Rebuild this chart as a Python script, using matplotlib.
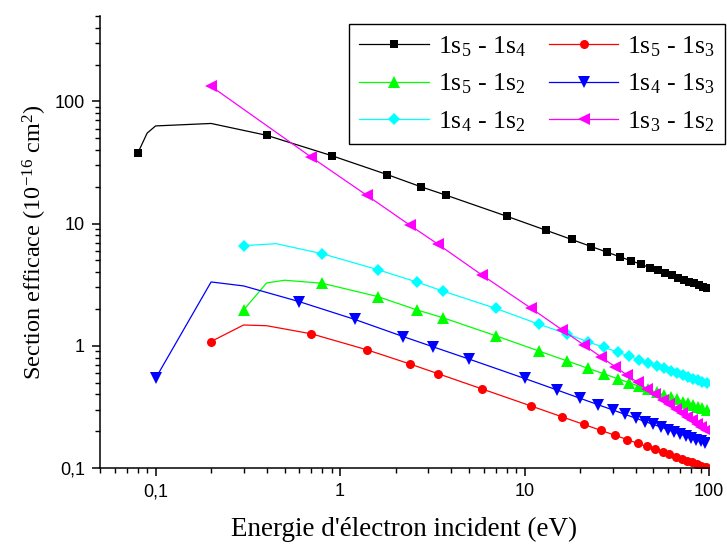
import matplotlib
matplotlib.use("Agg")
import matplotlib.pyplot as plt
from matplotlib.ticker import LogLocator, FuncFormatter, NullFormatter

plt.rcParams['mathtext.fontset'] = 'custom'
plt.rcParams['mathtext.rm'] = 'Liberation Serif'
plt.rcParams['mathtext.it'] = 'Liberation Serif:italic'

# energies (eV) and cross sections (1e-16 cm2); "hidden" points only shape the line
black_x = [0.08, 0.09, 0.1, 0.2, 0.4, 0.9, 1.8, 2.75, 3.75, 8, 13, 18, 23, 28, 33, 38,
           43, 48, 53, 58, 63, 68, 73, 78, 83, 88, 93, 98]
black_y = [37.6, 55, 63, 66, 52.8, 36, 25.2, 20, 17.1, 11.5, 8.85, 7.42, 6.49, 5.84, 5.34,
           4.95, 4.63, 4.36, 4.14, 3.94, 3.77, 3.61, 3.48, 3.35, 3.24, 3.14, 3.05, 2.96]
black_hidden = [0.09, 0.1, 0.2]

red_x = [0.2, 0.3, 0.4, 0.7, 1.4, 2.4, 3.4, 5.9, 10.9, 16, 21, 26, 31, 36, 41, 46, 51,
         56, 61, 66, 71, 76, 81, 86, 91, 96]
red_y = [1.084, 1.48, 1.46, 1.253, 0.927, 0.709, 0.591, 0.443, 0.321, 0.262, 0.227, 0.203,
         0.185, 0.171, 0.159, 0.150, 0.142, 0.135, 0.129, 0.124, 0.119, 0.115, 0.111,
         0.108, 0.1045, 0.1015]
red_hidden = [0.3, 0.4]

green_x = [0.3, 0.4, 0.5, 0.8, 1.6, 2.6, 3.6, 7, 12, 17, 22, 27, 32, 37, 42, 47, 52, 57,
           62, 67, 72, 77, 82, 87, 92, 97]
green_y = [1.96, 3.27, 3.44, 3.25, 2.53, 1.97, 1.70, 1.207, 0.905, 0.752, 0.656, 0.589,
           0.538, 0.498, 0.466, 0.439, 0.416, 0.396, 0.379, 0.364, 0.350, 0.338, 0.327,
           0.317, 0.307, 0.299]
green_hidden = [0.4, 0.5]

blue_x = [0.1, 0.2, 0.3, 0.6, 1.2, 2.2, 3.2, 5, 10, 15, 20, 25, 30, 35, 40, 45, 50, 55,
          60, 65, 70, 75, 80, 85, 90, 95]
blue_y = [0.541, 3.33, 3.09, 2.30, 1.645, 1.19, 0.98, 0.779, 0.541, 0.435, 0.372, 0.330,
          0.299, 0.275, 0.256, 0.240, 0.227, 0.216, 0.206, 0.197, 0.189, 0.183, 0.176,
          0.171, 0.166, 0.161]
blue_hidden = [0.2, 0.3]

cyan_x = [0.3, 0.45, 0.8, 1.6, 2.6, 3.6, 7, 12, 17, 22, 27, 32, 37, 42, 47, 52, 57, 62,
          67, 72, 77, 82, 87, 92, 97]
cyan_y = [6.6, 6.85, 5.67, 4.2, 3.33, 2.81, 2.02, 1.50, 1.25, 1.08, 0.97, 0.89, 0.82,
          0.769, 0.724, 0.687, 0.654, 0.625, 0.60, 0.577, 0.557, 0.539, 0.522, 0.506, 0.492]
cyan_hidden = [0.45]

magenta_x = [0.2, 0.7, 1.4, 2.4, 3.4, 5.9, 10.9, 16, 21, 26, 31, 36, 41, 46, 51, 56, 61,
             66, 71, 76, 81, 86, 91, 96]
magenta_y = [133, 34.9, 17, 9.67, 6.77, 3.78, 2.02, 1.35, 1.015, 0.81, 0.674, 0.576, 0.502,
             0.445, 0.40, 0.362, 0.331, 0.305, 0.282, 0.263, 0.246, 0.231, 0.218, 0.206]
magenta_hidden = []

series = [
    (black_x, black_y, black_hidden, '#000000', 's', 5.5, r'1s$_5$ - 1s$_4$'),
    (red_x, red_y, red_hidden, '#ff0000', 'o', 6.5, r'1s$_5$ - 1s$_3$'),
    (green_x, green_y, green_hidden, '#00ff00', '^', 8.5, r'1s$_5$ - 1s$_2$'),
    (blue_x, blue_y, blue_hidden, '#0000ff', 'v', 8.5, r'1s$_4$ - 1s$_3$'),
    (cyan_x, cyan_y, cyan_hidden, '#00ffff', 'D', 6.5, r'1s$_4$ - 1s$_2$'),
    (magenta_x, magenta_y, magenta_hidden, '#ff00ff', '<', 8.5, r'1s$_3$ - 1s$_2$'),
]

fig = plt.figure(figsize=(7.27, 5.48), dpi=100)
ax = fig.add_axes([0.1376, 0.146, 0.8376, 0.8248])

handles = {}
for xs, ys, hidden, col, mk, ms, lab in series:
    shown = [i for i, x in enumerate(xs) if x not in hidden]
    h, = ax.plot(xs, ys, color=col, lw=0.9, marker=mk, ms=ms, markevery=shown,
                 markeredgewidth=0, label=lab)
    handles[lab] = h

ax.set_xscale('log')
ax.set_yscale('log')
ax.set_xlim(0.05, 100)
ax.set_ylim(0.1, 500)

ax.spines['top'].set_visible(False)
ax.spines['right'].set_visible(False)
for s in ('left', 'bottom'):
    ax.spines[s].set_linewidth(1.1)

comma = FuncFormatter(lambda v, p: ('%g' % v).replace('.', ','))
for axis in (ax.xaxis, ax.yaxis):
    axis.set_major_locator(LogLocator(base=10, numticks=10))
    axis.set_minor_locator(LogLocator(base=10, subs=range(2, 10), numticks=10))
    axis.set_major_formatter(comma)
    axis.set_minor_formatter(NullFormatter())
ax.tick_params(which='major', direction='out', length=6, width=1.1,
               labelsize=13, labelfontfamily='Liberation Sans', pad=5)
ax.tick_params(which='minor', direction='out', length=3.5, width=1.0)

ax.set_xlabel("Energie d'électron incident (eV)", family='Liberation Serif',
              fontsize=19.5, labelpad=12)
ax.set_ylabel(r'Section efficace (10$^{-16}$ cm$^2$)', family='Liberation Serif',
              fontsize=17.5, labelpad=4)

order = [series[0][6], series[2][6], series[4][6], series[1][6], series[3][6], series[5][6]]
leg = ax.legend([handles[k] for k in order], order, ncol=2, loc='upper right',
                bbox_to_anchor=(725 / 727, 1 - 24 / 548), bbox_transform=fig.transFigure,
                borderaxespad=0, fancybox=False, framealpha=1, edgecolor='black',
                numpoints=1, handlelength=2.7, handletextpad=0.35, columnspacing=0.9,
                labelspacing=0.5, borderpad=0.4,
                prop={'family': 'Liberation Serif', 'size': 18.5})
leg.get_frame().set_linewidth(1.0)

fig.savefig('out.png', dpi=100)
